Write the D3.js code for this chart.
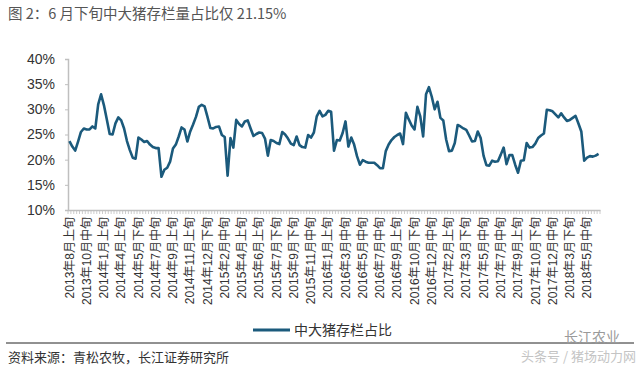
<!DOCTYPE html>
<html><head><meta charset="utf-8">
<script src="https://cdn.jsdelivr.net/npm/d3@7"></script>
<style>
html,body{margin:0;padding:0;background:#fff;}
text{font-family:"Liberation Sans","Noto Sans CJK SC",sans-serif;}
</style></head>
<body><svg id="c" width="640" height="367"></svg>
<script>
const titleText = "图 2：6 月下旬中大猪存栏量占比仅 21.15%";
const seriesName = "中大猪存栏占比";
const sourceText = "资料来源：青松农牧，长江证券研究所";
const yTicks = [0.10, 0.15, 0.20, 0.25, 0.30, 0.35, 0.40];
const tickLabels = ["2013年8月上旬","2013年10月中旬","2014年1月上旬","2014年4月上旬","2014年5月下旬","2014年7月中旬","2014年9月上旬","2014年11月上旬","2014年12月下旬","2015年2月中旬","2015年4月上旬","2015年6月上旬","2015年7月下旬","2015年9月下旬","2015年11月中旬","2016年1月上旬","2016年3月中旬","2016年5月中旬","2016年7月中旬","2016年9月上旬","2016年10月下旬","2016年12月中旬","2017年2月上旬","2017年3月下旬","2017年5月中旬","2017年7月中旬","2017年9月上旬","2017年10月下旬","2017年12月中旬","2018年3月下旬","2018年5月中旬"];
const labelEvery = 6;
// share (%) per observation
const values = [
23.7,22.6,21.8,23.6,25.5,26.2,26.0,26.0,26.6,26.2,
31.0,33.0,30.8,28.0,25.1,25.0,27.2,28.4,27.8,26.2,
23.7,21.9,20.4,20.2,24.4,24.0,23.5,23.7,23.0,22.5,
22.3,22.3,16.6,18.0,18.4,19.6,22.2,23.0,24.6,26.4,
26.0,23.6,25.6,27.0,28.5,30.5,30.9,30.6,28.5,26.3,
26.2,26.5,26.6,24.9,24.5,16.8,24.3,22.4,27.9,27.1,
26.6,27.6,27.8,26.2,24.7,25.1,25.4,25.3,24.2,20.8,
23.9,23.7,23.3,23.1,25.5,25.0,24.2,23.2,22.9,24.6,
22.9,22.5,22.4,24.9,24.4,25.4,28.6,29.7,28.6,28.9,
29.7,29.5,21.8,23.9,23.8,25.3,27.6,22.6,24.4,23.0,
20.7,19.0,19.9,19.6,19.4,19.4,19.4,18.9,18.3,18.3,
21.7,23.0,23.9,24.5,24.9,25.2,23.1,29.3,28.0,26.8,
26.0,30.5,28.6,24.6,33.0,34.4,32.5,30.0,31.5,28.3,
27.8,24.0,21.7,21.8,23.3,26.9,26.6,26.2,25.9,24.8,
23.6,23.7,25.6,24.3,20.8,18.9,18.8,19.8,19.6,19.7,
21.0,22.4,19.1,20.9,20.9,19.0,17.4,19.8,19.9,23.3,
22.4,22.5,23.2,24.3,24.8,25.2,29.9,29.8,29.6,29.0,
28.4,29.2,28.4,27.7,27.9,28.3,28.7,27.2,25.6,19.8,
20.4,20.7,20.6,20.8,21.15
].map(v => v / 100);

const svg = d3.select("#c");
const color = "#1b5a7c";
const L = 68, R = 600, T = 59, B = 210;

const x = d3.scaleBand().domain(d3.range(values.length)).range([L, R]).padding(0);
const y = d3.scaleLinear().domain([0.10, 0.40]).range([B, T]);

// title
svg.append("text").attr("x", 8).attr("y", 19).attr("font-size", 14.5).attr("fill", "#555")
  .style("font-family", "'Noto Sans CJK SC','Liberation Sans',sans-serif").text(titleText);

// y axis
const ya = svg.append("g").attr("transform", `translate(${L},0)`)
  .call(d3.axisLeft(y).tickValues(yTicks).tickFormat(d3.format(".0%")).tickSize(3).tickPadding(10));
ya.select(".domain").attr("stroke", "#bfbfbf").attr("stroke-width", 1.5);
ya.selectAll(".tick line").attr("stroke", "#bfbfbf");
ya.selectAll("text").attr("font-size", 14).attr("fill", "#333").style("font-family", "'Liberation Sans',sans-serif");

// x axis
const xa = svg.append("g").attr("transform", `translate(0,${B})`)
  .call(d3.axisBottom(x).tickValues(d3.range(0, values.length, labelEvery))
    .tickFormat(i => tickLabels[i / labelEvery]).tickSize(0).tickPadding(0));
xa.select(".domain").attr("stroke", "#bfbfbf").attr("stroke-width", 1.5);
xa.selectAll("text")
  .attr("transform", "rotate(-90)")
  .attr("text-anchor", "end")
  .attr("x", -7).attr("y", 0).attr("dy", "0.35em")
  .attr("font-size", 12).attr("fill", "#333")
  .style("font-family", "'Liberation Sans','Noto Sans CJK SC',sans-serif");
// minor ticks at every category boundary
xa.append("g").selectAll("line").data(d3.range(values.length + 1)).join("line")
  .attr("x1", i => i < values.length ? x(i) : R).attr("x2", i => i < values.length ? x(i) : R)
  .attr("y1", 0).attr("y2", 4).attr("stroke", "#bfbfbf").attr("stroke-width", 0.8);

// line
const line = d3.line().x((d, i) => x(i) + x.bandwidth() / 2).y(d => y(d)).curve(d3.curveLinear);
svg.append("path").datum(values).attr("d", line).attr("fill", "none")
  .attr("stroke", color).attr("stroke-width", 2.6).attr("stroke-linejoin", "round");

// legend
svg.append("line").attr("x1", 253).attr("x2", 290).attr("y1", 330).attr("y2", 330)
  .attr("stroke", color).attr("stroke-width", 3);
svg.append("text").attr("x", 294).attr("y", 335).attr("font-size", 14).attr("fill", "#333")
  .style("font-family", "'Noto Sans CJK SC',sans-serif").text(seriesName);

// rule and source
svg.append("line").attr("x1", 6).attr("x2", 634).attr("y1", 343).attr("y2", 343)
  .attr("stroke", "#222").attr("stroke-width", 1);
svg.append("text").attr("x", 8).attr("y", 362).attr("font-size", 13).attr("fill", "#333")
  .style("font-family", "'Noto Sans CJK SC',sans-serif").text(sourceText);

// watermark
svg.append("text").attr("x", 620).attr("y", 342).attr("text-anchor", "end").attr("font-size", 14)
  .attr("fill", "#9a9a9a").style("font-family", "'Noto Sans CJK SC',sans-serif").text("长江农业");
svg.append("text").attr("x", 636).attr("y", 361).attr("text-anchor", "end").attr("font-size", 13)
  .attr("fill", "#c4c4c4").style("font-family", "'Noto Sans CJK SC',sans-serif").text("头条号 / 猪场动力网");
</script></body></html>
